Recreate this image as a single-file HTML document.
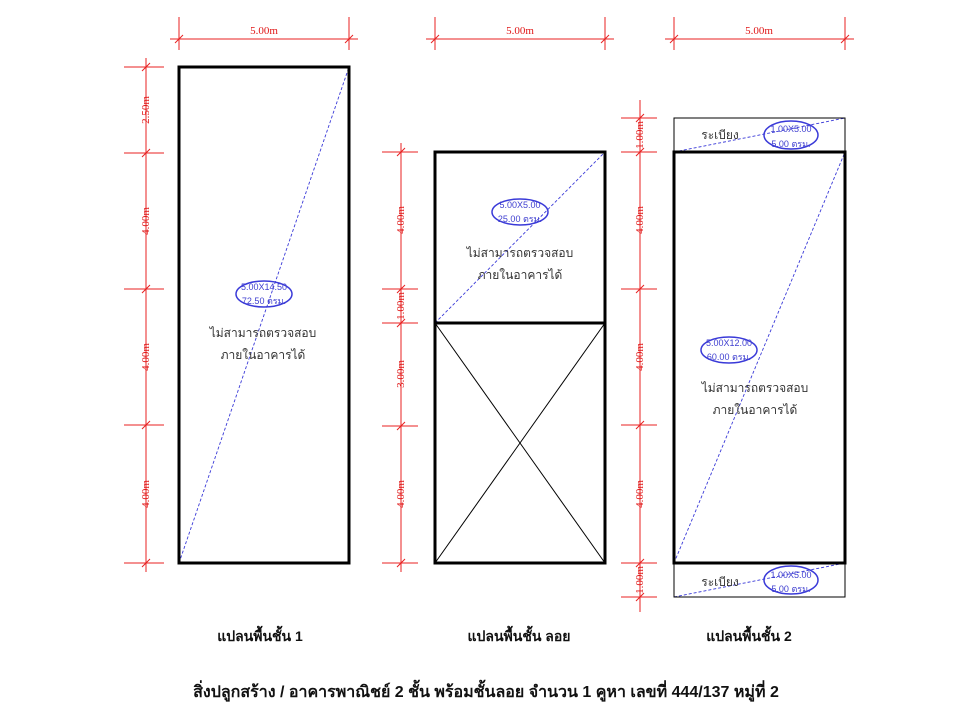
<!DOCTYPE html>
<html><head><meta charset="utf-8"><style>
html,body{margin:0;padding:0;background:#fff;width:960px;height:720px;overflow:hidden}
svg{display:block}
.d{font-family:"Liberation Serif",serif;font-size:11px;fill:#e01818}
.b{font-family:"Liberation Sans",sans-serif;font-size:9px;fill:#4040d0}
.t{font-family:"Liberation Sans","Noto Sans CJK SC",sans-serif;font-size:12px;fill:#333}
.h{font-family:"Liberation Sans","Noto Sans CJK SC",sans-serif;font-size:14px;font-weight:bold;fill:#111}
</style></head><body>
<svg width="960" height="720" viewBox="0 0 960 720" xmlns="http://www.w3.org/2000/svg">
<g stroke="#e82020" stroke-width="1" fill="none">
<line x1="170" y1="39" x2="358" y2="39"/><line x1="179" y1="17" x2="179" y2="50"/><line x1="349" y1="17" x2="349" y2="50"/>
<line x1="175" y1="43" x2="183" y2="35"/><line x1="345" y1="43" x2="353" y2="35"/>
<line x1="426" y1="39" x2="614" y2="39"/><line x1="435" y1="17" x2="435" y2="50"/><line x1="605" y1="17" x2="605" y2="50"/>
<line x1="431" y1="43" x2="439" y2="35"/><line x1="601" y1="43" x2="609" y2="35"/>
<line x1="665" y1="39" x2="854" y2="39"/><line x1="674" y1="17" x2="674" y2="50"/><line x1="845" y1="17" x2="845" y2="50"/>
<line x1="670" y1="43" x2="678" y2="35"/><line x1="841" y1="43" x2="849" y2="35"/>
<line x1="146" y1="58" x2="146" y2="572"/>
<line x1="124" y1="67" x2="164" y2="67"/><line x1="124" y1="153" x2="164" y2="153"/><line x1="124" y1="289" x2="164" y2="289"/><line x1="124" y1="425" x2="164" y2="425"/><line x1="124" y1="563" x2="164" y2="563"/>
<path d="M142 71L150 63M142 157L150 149M142 293L150 285M142 429L150 421M142 567L150 559"/>
<line x1="401" y1="143" x2="401" y2="572"/>
<line x1="382" y1="152" x2="418" y2="152"/><line x1="382" y1="289" x2="418" y2="289"/><line x1="382" y1="323" x2="418" y2="323"/><line x1="382" y1="426" x2="418" y2="426"/><line x1="382" y1="563" x2="418" y2="563"/>
<path d="M397 156L405 148M397 293L405 285M397 327L405 319M397 430L405 422M397 567L405 559"/>
<line x1="640" y1="100" x2="640" y2="612"/>
<line x1="621" y1="118" x2="657" y2="118"/><line x1="621" y1="152" x2="657" y2="152"/><line x1="621" y1="289" x2="657" y2="289"/><line x1="621" y1="425" x2="657" y2="425"/><line x1="621" y1="563" x2="657" y2="563"/><line x1="621" y1="597" x2="657" y2="597"/>
<path d="M636 122L644 114M636 156L644 148M636 293L644 285M636 429L644 421M636 567L644 559M636 601L644 593"/>
</g>
<g class="d" text-anchor="middle">
<text x="264" y="34">5.00m</text><text x="520" y="34">5.00m</text><text x="759" y="34">5.00m</text>
<text transform="translate(149,110) rotate(-90)">2.50m</text>
<text transform="translate(149,221) rotate(-90)">4.00m</text>
<text transform="translate(149,357) rotate(-90)">4.00m</text>
<text transform="translate(149,494) rotate(-90)">4.00m</text>
<text transform="translate(404,220) rotate(-90)">4.00m</text>
<text transform="translate(404,306) rotate(-90)">1.00m</text>
<text transform="translate(404,374) rotate(-90)">3.00m</text>
<text transform="translate(404,494) rotate(-90)">4.00m</text>
<text transform="translate(643,135) rotate(-90)">1.00m</text>
<text transform="translate(643,220) rotate(-90)">4.00m</text>
<text transform="translate(643,357) rotate(-90)">4.00m</text>
<text transform="translate(643,494) rotate(-90)">4.00m</text>
<text transform="translate(643,580) rotate(-90)">1.00m</text>
</g>
<g stroke="#3a3ad8" stroke-width="0.9" stroke-dasharray="3,2" fill="none">
<line x1="179" y1="563" x2="349" y2="67"/>
<line x1="435" y1="323" x2="605" y2="152"/>
<line x1="674" y1="563" x2="845" y2="152"/>
<line x1="674" y1="152" x2="845" y2="118"/>
<line x1="674" y1="597" x2="845" y2="563"/>
</g>
<g stroke="#000" fill="none">
<rect x="674" y="118" width="171" height="479" stroke-width="1"/>
<line x1="435" y1="323" x2="605" y2="563" stroke-width="1"/>
<line x1="605" y1="323" x2="435" y2="563" stroke-width="1"/>
<rect x="179" y="67" width="170" height="496" stroke-width="3"/>
<rect x="435" y="152" width="170" height="411" stroke-width="3"/>
<line x1="435" y1="323" x2="605" y2="323" stroke-width="3"/>
<rect x="674" y="152" width="171" height="411" stroke-width="3"/>
</g>
<g stroke="#3a3ad8" stroke-width="1.5" fill="none">
<ellipse cx="264" cy="294" rx="28" ry="13"/>
<ellipse cx="520" cy="212" rx="28" ry="13"/>
<ellipse cx="729" cy="350" rx="28" ry="13"/>
<ellipse cx="791" cy="135" rx="27" ry="14"/>
<ellipse cx="791" cy="580" rx="27" ry="14"/>
</g>
<g class="b" text-anchor="middle">
<text x="264" y="290">5.00X14.50</text><text x="264" y="304">72.50 ตรม.</text>
<text x="520" y="208">5.00X5.00</text><text x="520" y="222">25.00 ตรม.</text>
<text x="729" y="346">5.00X12.00</text><text x="729" y="360">60.00 ตรม.</text>
<text x="791" y="132">1.00X5.00</text><text x="791" y="147">5.00 ตรม.</text>
<text x="791" y="578">1.00X5.00</text><text x="791" y="592">5.00 ตรม.</text>
</g>
<g class="t" text-anchor="middle">
<text x="263" y="337">ไม่สามารถตรวจสอบ</text><text x="263" y="359">ภายในอาคารได้</text>
<text x="520" y="257">ไม่สามารถตรวจสอบ</text><text x="520" y="279">ภายในอาคารได้</text>
<text x="755" y="392">ไม่สามารถตรวจสอบ</text><text x="755" y="414">ภายในอาคารได้</text>
<text x="720" y="139">ระเบียง</text><text x="720" y="586">ระเบียง</text>
</g>
<g class="h" text-anchor="middle">
<text x="260" y="641">แปลนพื้นชั้น 1</text>
<text x="519" y="641">แปลนพื้นชั้น ลอย</text>
<text x="749" y="641">แปลนพื้นชั้น 2</text>
<text x="486" y="697" style="font-size:16px">สิ่งปลูกสร้าง / อาคารพาณิชย์ 2 ชั้น พร้อมชั้นลอย จำนวน 1 คูหา เลขที่ 444/137 หมู่ที่ 2</text>
</g>
</svg>
</body></html>
